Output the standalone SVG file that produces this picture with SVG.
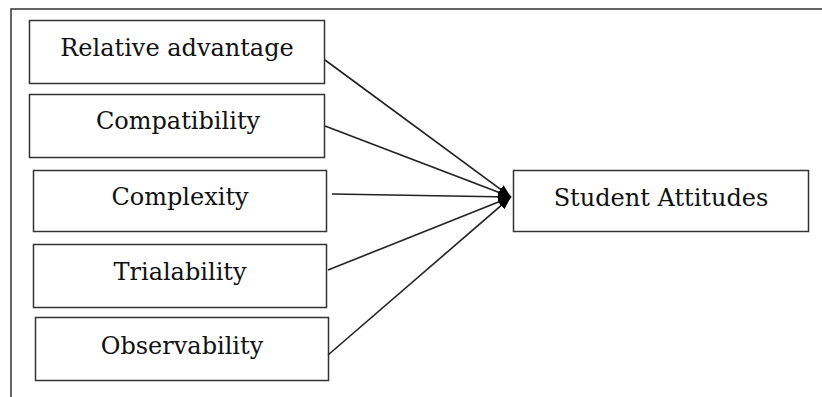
<svg xmlns="http://www.w3.org/2000/svg" width="822" height="397" viewBox="0 0 822 397">
<style>
.box{fill:#fff;stroke:#333;stroke-width:1.5}
.lbl{font-family:"DejaVu Serif","Liberation Serif",serif;font-size:24px;fill:#111;text-anchor:middle}
.con{stroke:#222;stroke-width:1.6;fill:none;marker-end:url(#ah)}
</style>
<defs>
<marker id="ah" markerWidth="14" markerHeight="10" refX="13" refY="5" orient="auto" markerUnits="userSpaceOnUse">
<path d="M0,0 L13,5 L0,10 z" fill="#000"/>
</marker>
</defs>
<path d="M11,397 V9 H822" fill="none" stroke="#333" stroke-width="1.5"/>
<g id="n1"><rect class="box" x="29.5" y="20.5" width="295" height="63"/><text class="lbl" x="177" y="56">Relative advantage</text></g>
<g id="n2"><rect class="box" x="29.5" y="94.5" width="295" height="63"/><text class="lbl" x="178" y="129">Compatibility</text></g>
<g id="n3"><rect class="box" x="33.5" y="170.5" width="293" height="61"/><text class="lbl" x="180" y="205">Complexity</text></g>
<g id="n4"><rect class="box" x="33.5" y="244.5" width="293" height="63"/><text class="lbl" x="180" y="280">Trialability</text></g>
<g id="n5"><rect class="box" x="35.5" y="317.5" width="293" height="63"/><text class="lbl" x="182" y="354">Observability</text></g>
<g id="n6"><rect class="box" x="513.5" y="170.5" width="295" height="61"/><text class="lbl" x="661" y="206">Student Attitudes</text></g>
<g id="connectors">
<line class="con" x1="325" y1="60" x2="511" y2="197"/>
<line class="con" x1="325" y1="126" x2="511" y2="197"/>
<line class="con" x1="332" y1="194" x2="511" y2="197"/>
<line class="con" x1="328" y1="270" x2="511" y2="197"/>
<line class="con" x1="328" y1="355" x2="511" y2="197"/>
</g>
</svg>
